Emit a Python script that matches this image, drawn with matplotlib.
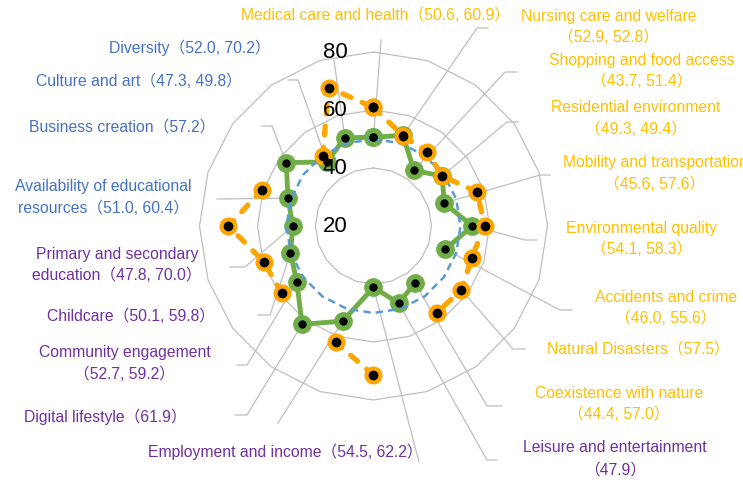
import numpy as np
import matplotlib.pyplot as plt

# 20 well-being categories, clockwise from the top
categories = ["Medical care and health", "Nursing care and welfare", "Shopping and food access",
              "Residential environment", "Mobility and transportation", "Environmental quality",
              "Accidents and crime", "Natural Disasters", "Coexistence with nature",
              "Leisure and entertainment", "(unreadable)", "Employment and income",
              "Digital lifestyle", "Community engagement", "Childcare",
              "Primary and secondary education", "Availability of educational resources",
              "Business creation", "Culture and art", "Diversity"]

# green series (solid) and orange series (dashed); nan = no value
green = [50.6, 52.9, 43.7, 49.3, 45.6, 54.1, 46.0, np.nan, 44.4, 47.9,
         41.2, 54.5, 61.9, 52.7, 50.1, 47.8, 51.0, 57.2, 47.3, 52.0]
orange = [60.9, 52.8, 51.4, 49.4, 57.6, 58.3, 55.6, 57.5, 57.0, np.nan,
          71.4, 62.2, np.nan, 59.2, 59.8, 70.0, 60.4, np.nan, 49.8, 70.2]
reference = [50.0] * 20

label_texts = ["Medical care and health（50.6, 60.9）",
               "Nursing care and welfare\n（52.9, 52.8）",
               "Shopping and food access\n（43.7, 51.4）",
               "Residential environment\n（49.3, 49.4）",
               "Mobility and transportation\n（45.6, 57.6）",
               "Environmental quality\n（54.1, 58.3）",
               "Accidents and crime\n（46.0, 55.6）",
               "Natural Disasters（57.5）",
               "Coexistence with nature\n（44.4, 57.0）",
               "Leisure and entertainment\n（47.9）",
               "（41.2, 71.4）",
               "Employment and income（54.5, 62.2）",
               "Digital lifestyle（61.9）",
               "Community engagement\n（52.7, 59.2）",
               "Childcare（50.1, 59.8）",
               "Primary and secondary\neducation（47.8, 70.0）",
               "Availability of educational\nresources（51.0, 60.4）",
               "Business creation（57.2）",
               "Culture and art（47.3, 49.8）",
               "Diversity（52.0, 70.2）"]
label_groups = ["env"] * 9 + ["life"] * 7 + ["social"] * 4
group_colors = {"env": "#FFC000", "life": "#7030A0", "social": "#4472C4"}

ring_levels = [40, 60, 80]
tick_labels = ["20", "40", "60", "80"]

# ---- layout (pixels in the 743x484 image) ----
W, H = 743, 484
CX, CY = 373.5, 226.0     # radar centre
S = 2.9                   # pixels per point
RMIN = 20

label_pos = [(376, 15), (609, 16), (642, 60), (636, 108), (655, 163), (642, 228),
             (666, 297), (638, 349), (619, 393), (615, 448), (465, 494), (285, 452),
             (105, 417), (125, 353), (131, 316), (117, 254), (103, 187), (122, 127),
             (139, 81), (190, 48)]
leader_pts = [[(381, 40)], [(488, 28), (477, 28)], [(517, 72), (505, 72)],
              [(518, 122), (507, 122)], [(550, 175), (540, 175)], [(537, 240), (525, 240)],
              [(572, 310), (560, 310)], [(525, 349), (513, 349)], [(502, 406), (487, 406)],
              [(497, 460), (487, 460)], [(419, 462)], [(278, 423)],
              [(235, 415), (247, 415)], [(237, 365), (247, 365)], [(258, 315), (270, 315)],
              [(230, 267), (245, 267)], [(217, 199)], [(262, 126), (272, 126)],
              [(288, 80), (298, 80)], [(334, 60)]]


def px(x, y):
    return (x - CX) / S, (CY - y) / S


n = len(categories)
theta = np.pi / 2 - 2 * np.pi * np.arange(n) / n


def xy(vals, close=True):
    v = np.asarray(vals, dtype=float) - RMIN
    x, y = v * np.cos(theta), v * np.sin(theta)
    if close:
        x, y = np.append(x, x[0]), np.append(y, y[0])
    return x, y


fig = plt.figure(figsize=(W / 100, H / 100), dpi=100)
ax = fig.add_axes([0, 0, 1, 1])
ax.set_xlim(-CX / S, (W - CX) / S)
ax.set_ylim((CY - H) / S, CY / S)
ax.axis('off')

# polygon gridlines
for lev in ring_levels:
    gx, gy = xy([lev] * n)
    ax.plot(gx, gy, color='#BFBFBF', lw=0.9, zorder=1)

# radial tick labels
for t in tick_labels:
    ax.text(-38.5 / S, float(t) - RMIN, t, fontsize=16, ha='center', va='center',
            family='Liberation Sans', color='black', zorder=6)

# series
gx, gy = xy(green)
ax.plot(gx, gy, color='#70AD47', lw=3.5, marker='o', ms=12.5, mec='#70AD47', zorder=3)
bx, by = xy(reference)
ax.plot(bx, by, color='#5B9BD5', lw=1.8, dashes=(3, 2), zorder=4)
ox, oy = xy(orange)
ax.plot(ox, oy, color='#FFA500', lw=3.8, dashes=(1.7, 2.3), dash_capstyle='round',
        zorder=5)
ax.plot(ox, oy, ls='none', marker='o', ms=12, color='#FFA500', zorder=5)
ax.plot(gx, gy, ls='none', marker='o', ms=5, color='black', zorder=6)
ax.plot(ox, oy, ls='none', marker='o', ms=6, color='black', zorder=6)

# leader lines and data labels
font = ['Liberation Sans', 'Noto Sans CJK JP']
for i in range(n):
    tx, ty = xy(orange if np.isnan(green[i]) else green, close=False)
    pts = [px(*p) for p in leader_pts[i]] + [(tx[i], ty[i])]
    ax.plot([p[0] for p in pts], [p[1] for p in pts], color='#BFBFBF', lw=0.9, zorder=2)
    lx, ly = label_pos[i]
    for k, line in enumerate(label_texts[i].split('\n')):
        ax.text(*px(lx, ly + 21.5 * k), line, fontsize=11.3, family=font,
                color=group_colors[label_groups[i]], ha='center', va='center', zorder=7)

fig.savefig('out.png', dpi=100)
